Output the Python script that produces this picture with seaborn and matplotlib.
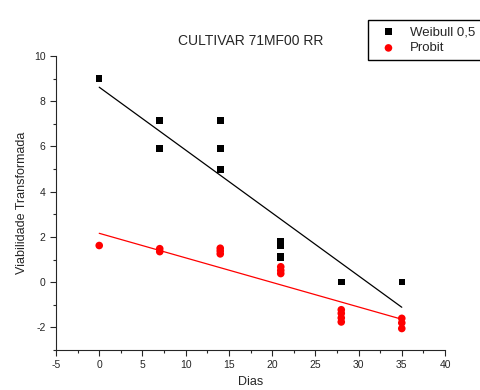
import numpy as np
import pandas as pd
import seaborn as sbn
import matplotlib.pyplot as plt
from matplotlib.ticker import MultipleLocator

# Data
weibull_dias = [0, 7, 7, 14, 14, 14, 21, 21, 21, 21, 28, 28, 35]
weibull_vals = [9.0, 7.15, 5.9, 7.15, 5.9, 4.98, 1.82, 1.6, 1.15, 1.08, 0.0, 0.0, 0.0]
probit_dias = [0, 7, 7, 14, 14, 14, 21, 21, 21, 28, 28, 28, 28, 35, 35, 35]
probit_vals = [1.62, 1.48, 1.35, 1.5, 1.38, 1.25, 0.68, 0.52, 0.38,
               -1.22, -1.38, -1.58, -1.76, -1.6, -1.8, -2.05]

# Fitted lines (end points)
fit_dias = [0, 35]
weibull_fit = [8.62, -1.11]
probit_fit = [2.16, -1.64]

sbn.set_style('ticks')
plt.rcParams['font.family'] = ['Liberation Sans', 'DejaVu Sans']
plt.rcParams['axes.unicode_minus'] = False

fig = plt.figure(figsize=(4.81, 3.90), dpi=100)
ax = fig.add_axes([56 / 481, 1 - 350 / 390, (445 - 56) / 481, (350 - 56) / 390])

df_w = pd.DataFrame({'Dias': weibull_dias, 'v': weibull_vals})
df_p = pd.DataFrame({'Dias': probit_dias, 'v': probit_vals})

sbn.lineplot(x=fit_dias, y=weibull_fit, color='black', lw=0.9, ax=ax)
sbn.lineplot(x=fit_dias, y=probit_fit, color='red', lw=0.9, ax=ax)
sbn.scatterplot(data=df_w, x='Dias', y='v', marker='s', s=22, color='black',
                edgecolor='none', label='Weibull 0,5', ax=ax, zorder=3)
sbn.scatterplot(data=df_p, x='Dias', y='v', marker='o', s=30, color='red',
                edgecolor='none', label='Probit', ax=ax, zorder=3)

ax.set_xlim(-5, 40)
ax.set_ylim(-3, 10)
ax.xaxis.set_major_locator(MultipleLocator(5))
ax.xaxis.set_minor_locator(MultipleLocator(2.5))
ax.yaxis.set_major_locator(MultipleLocator(2))
ax.yaxis.set_minor_locator(MultipleLocator(1))
ax.tick_params(which='major', length=4, width=0.8, labelsize=7.5, direction='out')
ax.tick_params(which='minor', length=2.5, width=0.8, direction='out')
ax.spines['top'].set_visible(False)
ax.spines['right'].set_visible(False)

ax.set_xlabel('Dias', fontsize=9)
ax.set_ylabel('Viabilidade Transformada', fontsize=9)
ax.set_title('CULTIVAR 71MF00 RR', fontsize=10, pad=8)

ax.legend(loc='upper left', bbox_to_anchor=(368 / 481, 1 - 20 / 390),
          bbox_transform=fig.transFigure, fontsize=9.5, frameon=True,
          fancybox=False, edgecolor='black', framealpha=1,
          handletextpad=0.5, borderpad=0.45, labelspacing=0.3,
          handlelength=2.2, borderaxespad=0)

fig.savefig('out.png', dpi=100)
